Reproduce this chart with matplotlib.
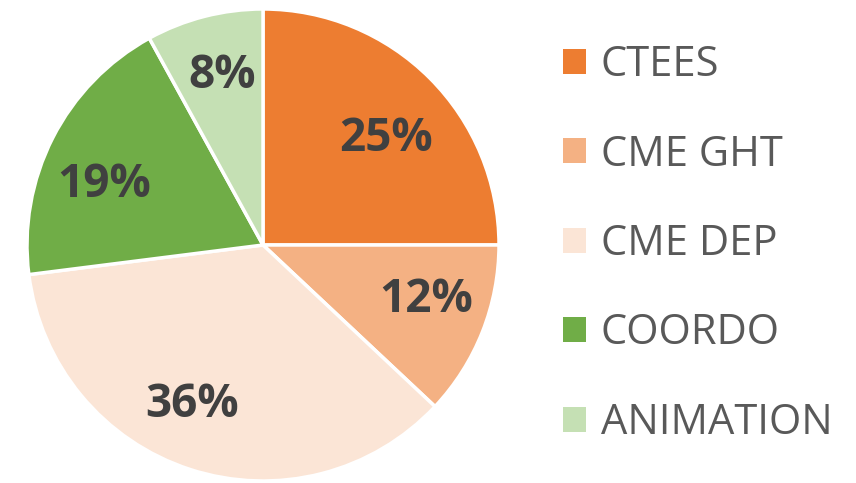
import matplotlib
matplotlib.use("Agg")
import matplotlib.pyplot as plt
from matplotlib.patches import Patch
import numpy as np

categories = ["CTEES", "CME GHT", "CME DEP", "COORDO", "ANIMATION"]
shares = [25, 12, 36, 19, 8]
colors = ["#ED7D31", "#F4B183", "#FBE5D6", "#70AD47", "#C5E0B4"]

# label placement: radius fraction and angular nudge (degrees) per slice
label_radius = [0.69, 0.73, 0.74, 0.72, 0.74]
label_nudge = [-4, 3, -6, 6, -1]

W, H = 856, 483
fig = plt.figure(figsize=(W / 100, H / 100), dpi=100)
ax = fig.add_axes([0, 0, 1, 1])

cx, cy, R = 263, 238, 236
wedges, _ = ax.pie(
    shares, colors=colors, startangle=90, counterclock=False,
    center=(cx, cy), radius=R, frame=True,
    wedgeprops=dict(edgecolor="white", linewidth=2.5),
)
ax.set_xlim(0, W)
ax.set_ylim(0, H)
ax.set_aspect("equal")
ax.axis("off")

for w, v, rf, nd in zip(wedges, shares, label_radius, label_nudge):
    mid = np.deg2rad((w.theta1 + w.theta2) / 2 + nd)
    ax.text(cx + rf * R * np.cos(mid), cy + rf * R * np.sin(mid), f"{v}%",
            ha="center", va="center", fontsize=33, fontweight="bold",
            color="#404040", family="Open Sans")

handles = [Patch(facecolor=c, edgecolor="none") for c in colors]
fig.legend(handles, categories, loc="upper left",
           bbox_to_anchor=(563 / W, 1 - 44 / H),
           frameon=False, labelcolor="#595959",
           prop=dict(family="Open Sans", size=30),
           handlelength=0.55, handleheight=0.55, handletextpad=0.36,
           labelspacing=1.14, borderaxespad=0, borderpad=0)

fig.savefig("out.png", dpi=100, facecolor="white")
